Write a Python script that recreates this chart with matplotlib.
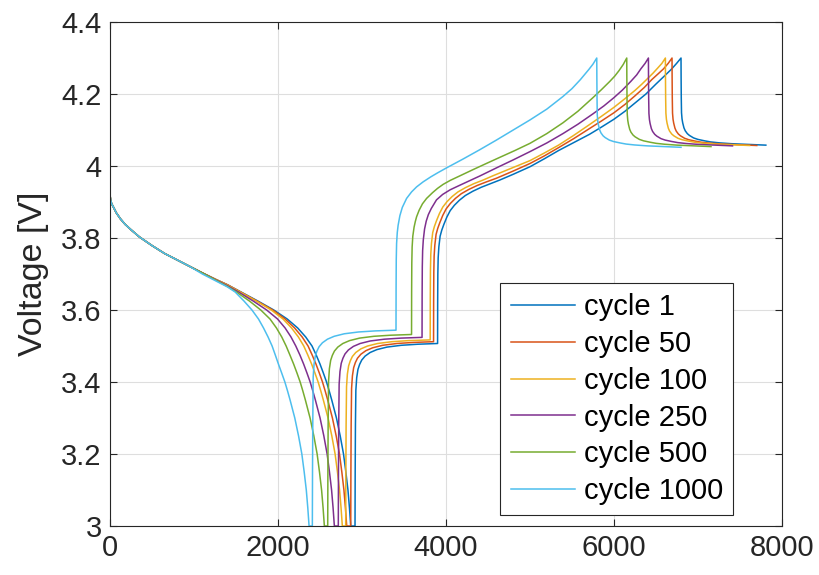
import matplotlib

matplotlib.use("Agg")
import matplotlib.pyplot as plt
from matplotlib.ticker import FormatStrFormatter

plt.rcParams["font.family"] = ["Liberation Sans", "DejaVu Sans"]

labels = ["cycle 1", "cycle 50", "cycle 100", "cycle 250", "cycle 500", "cycle 1000"]
colors = ["#0072BD", "#D95319", "#EDB120", "#7E2F8E", "#77AC30", "#4DBEEE"]

# start of the discharge, the same for every cycle
t_start = [0, 8, 20, 45, 75, 125, 180, 250, 350, 500, 650, 800, 950, 1100]
v_start = [3.92, 3.905, 3.895, 3.884, 3.870, 3.853, 3.838, 3.823, 3.803, 3.779, 3.757, 3.739, 3.721, 3.703]

# end of discharge: voltage levels shared by all cycles
v_tail = [3.65, 3.625, 3.60, 3.575, 3.55, 3.525, 3.50, 3.475, 3.45, 3.425, 3.40,
          3.375, 3.35, 3.325, 3.30, 3.25, 3.20, 3.15, 3.10, 3.05, 3.0]

# each cycle: discharge tail | rest | charge | rest
t_c1 = [1250, 1400, 1560, 1760, 1950, 2110, 2235, 2330, 2405, 2455, 2500, 2540, 2578, 2610, 2640, 2668, 2696, 2741, 2780, 2808, 2833, 2851, 2866,
        2917, 2919, 2922, 2927, 2937, 2952, 2972, 2997, 3037, 3097, 3177, 3297, 3467, 3667, 3900,
        3901, 3903, 3907, 3915, 3930, 3950, 3975, 4010, 4050, 4100, 4160, 4230, 4320, 4420, 4530, 4640, 4800, 5000, 5170, 5340, 5520, 5708, 5850, 6000, 6130, 6250, 6380, 6501, 6600, 6680, 6745, 6798,
        6799, 6801, 6804, 6810, 6818, 6833, 6848, 6873, 6898, 6948, 6998, 7078, 7148, 7248, 7398, 7598, 7808]
v_c1 = [3.686, 3.670] + v_tail + [
        3.0, 3.15, 3.28, 3.377, 3.412, 3.435, 3.449, 3.461, 3.472, 3.482, 3.49, 3.497, 3.502, 3.505, 3.507,
        3.62, 3.70, 3.745, 3.775, 3.805, 3.822, 3.838, 3.858, 3.876, 3.891, 3.905, 3.918, 3.93, 3.941, 3.951, 3.961, 3.977, 3.998, 4.02, 4.043, 4.065, 4.088, 4.108, 4.13, 4.152, 4.175, 4.20, 4.228, 4.25, 4.268, 4.285, 4.30,
        4.25, 4.19, 4.148, 4.131, 4.12, 4.106, 4.098, 4.09, 4.085, 4.078, 4.074, 4.07, 4.067, 4.0645, 4.062, 4.06, 4.058]

t_c50 = [1250, 1400, 1555, 1750, 1938, 2085, 2198, 2288, 2358, 2407, 2452, 2492, 2530, 2562, 2592, 2620, 2648, 2693, 2732, 2760, 2785, 2803, 2818,
         2866, 2868, 2871, 2876, 2886, 2901, 2921, 2946, 2986, 3046, 3126, 3246, 3416, 3616, 3852,
         3853, 3855, 3859, 3867, 3882, 3902, 3927, 3962, 4002, 4052, 4112, 4182, 4272, 4372, 4482, 4600, 4800, 5000, 5170, 5340, 5520, 5708, 5850, 6000, 6130, 6250, 6360, 6450, 6530, 6590, 6645, 6691,
         6692, 6694, 6697, 6703, 6711, 6726, 6741, 6766, 6791, 6841, 6891, 6971, 7041, 7141, 7291, 7491, 7700]
v_c50 = [3.686, 3.670] + v_tail + [
         3.0, 3.15, 3.28, 3.382, 3.417, 3.44, 3.454, 3.466, 3.477, 3.487, 3.495, 3.502, 3.507, 3.51, 3.512,
         3.625, 3.705, 3.75, 3.78, 3.81, 3.827, 3.843, 3.863, 3.881, 3.896, 3.91, 3.923, 3.935, 3.946, 3.956, 3.966, 3.986, 4.007, 4.028, 4.051, 4.076, 4.104, 4.125, 4.148, 4.171, 4.195, 4.218, 4.24, 4.257, 4.27, 4.285, 4.30,
         4.25, 4.19, 4.147, 4.13, 4.119, 4.105, 4.097, 4.089, 4.084, 4.077, 4.073, 4.069, 4.066, 4.0635, 4.061, 4.059, 4.057]

t_c100 = [1250, 1400, 1550, 1740, 1920, 2060, 2162, 2243, 2307, 2355, 2400, 2440, 2478, 2510, 2540, 2568, 2596, 2641, 2680, 2708, 2733, 2751, 2766,
          2806, 2808, 2811, 2816, 2826, 2841, 2861, 2886, 2926, 2986, 3066, 3186, 3356, 3556, 3812,
          3813, 3815, 3819, 3827, 3842, 3862, 3887, 3922, 3962, 4012, 4072, 4142, 4232, 4332, 4442, 4560, 4780, 5000, 5170, 5340, 5520, 5708, 5850, 6000, 6130, 6250, 6330, 6400, 6465, 6520, 6570, 6612,
          6613, 6615, 6618, 6624, 6632, 6647, 6662, 6687, 6712, 6762, 6812, 6892, 6962, 7062, 7212, 7412, 7615]
v_c100 = [3.686, 3.669] + v_tail + [
          3.0, 3.15, 3.28, 3.387, 3.422, 3.445, 3.459, 3.471, 3.482, 3.492, 3.50, 3.507, 3.512, 3.515, 3.517,
          3.63, 3.71, 3.755, 3.785, 3.815, 3.832, 3.848, 3.868, 3.886, 3.901, 3.915, 3.928, 3.94, 3.951, 3.961, 3.973, 3.994, 4.015, 4.036, 4.058, 4.085, 4.115, 4.138, 4.163, 4.187, 4.21, 4.227, 4.243, 4.258, 4.272, 4.285, 4.30,
          4.25, 4.19, 4.147, 4.13, 4.119, 4.105, 4.097, 4.089, 4.084, 4.077, 4.073, 4.069, 4.066, 4.0635, 4.061, 4.059, 4.057]

t_c250 = [1250, 1400, 1530, 1705, 1865, 1995, 2085, 2155, 2212, 2261, 2305, 2345, 2383, 2415, 2445, 2473, 2501, 2546, 2585, 2613, 2638, 2656, 2671,
          2718, 2720, 2723, 2728, 2738, 2753, 2773, 2798, 2838, 2898, 2978, 3098, 3268, 3468, 3715,
          3716, 3718, 3722, 3730, 3745, 3765, 3790, 3825, 3887, 3960, 4050, 4150, 4270, 4400, 4620, 4800, 5000, 5200, 5392, 5570, 5750, 5880, 6000, 6100, 6200, 6270, 6320, 6370, 6410,
          6411, 6413, 6416, 6422, 6430, 6445, 6460, 6485, 6510, 6560, 6610, 6690, 6760, 6860, 7010, 7210, 7411]
v_c250 = [3.685, 3.667] + v_tail + [
          3.0, 3.15, 3.28, 3.394, 3.429, 3.452, 3.466, 3.478, 3.489, 3.499, 3.507, 3.514, 3.519, 3.522, 3.524,
          3.64, 3.72, 3.765, 3.795, 3.825, 3.847, 3.865, 3.882, 3.906, 3.921, 3.934, 3.945, 3.958, 3.972, 3.997, 4.017, 4.04, 4.064, 4.09, 4.116, 4.145, 4.167, 4.19, 4.211, 4.235, 4.253, 4.27, 4.285, 4.30,
          4.25, 4.19, 4.146, 4.129, 4.118, 4.104, 4.096, 4.088, 4.083, 4.076, 4.072, 4.068, 4.065, 4.0625, 4.06, 4.058, 4.056]

t_c500 = [1250, 1400, 1505, 1660, 1795, 1905, 1982, 2045, 2097, 2142, 2186, 2226, 2264, 2296, 2326, 2354, 2382, 2427, 2466, 2494, 2519, 2537, 2552,
          2592, 2594, 2597, 2602, 2612, 2627, 2647, 2672, 2712, 2772, 2852, 2972, 3142, 3342, 3590,
          3591, 3593, 3597, 3605, 3620, 3635, 3650, 3680, 3720, 3769, 3840, 3900, 3966, 4050, 4150, 4322, 4480, 4640, 4820, 5000, 5200, 5392, 5570, 5750, 5850, 5950, 6010, 6060, 6110, 6152,
          6153, 6155, 6158, 6164, 6172, 6187, 6202, 6227, 6252, 6302, 6352, 6432, 6502, 6602, 6752, 6952, 7155]
v_c500 = [3.684, 3.665] + v_tail + [
          3.0, 3.15, 3.28, 3.402, 3.437, 3.46, 3.474, 3.486, 3.497, 3.507, 3.515, 3.522, 3.527, 3.53, 3.532,
          3.65, 3.73, 3.775, 3.805, 3.83, 3.846, 3.859, 3.877, 3.895, 3.91, 3.926, 3.938, 3.949, 3.96, 3.971, 3.99, 4.007, 4.024, 4.043, 4.063, 4.09, 4.12, 4.152, 4.19, 4.212, 4.235, 4.25, 4.265, 4.282, 4.30,
          4.25, 4.19, 4.144, 4.127, 4.116, 4.102, 4.094, 4.086, 4.081, 4.074, 4.07, 4.066, 4.063, 4.0605, 4.058, 4.056, 4.054]

t_c1000 = [1100, 1250, 1400, 1490, 1595, 1690, 1768, 1828, 1882, 1930, 1968, 2005, 2044, 2082, 2114, 2144, 2172, 2200, 2245, 2284, 2312, 2337, 2355, 2370,
           2409, 2411, 2414, 2419, 2429, 2444, 2464, 2489, 2529, 2589, 2669, 2789, 2959, 3159, 3405,
           3406, 3408, 3412, 3420, 3430, 3451, 3480, 3531, 3590, 3650, 3728, 3820, 3900, 4000, 4200, 4400, 4600, 4800, 5000, 5200, 5392, 5500, 5600, 5700, 5750, 5795,
           5796, 5798, 5801, 5807, 5815, 5830, 5845, 5870, 5895, 5945, 5995, 6075, 6145, 6245, 6395, 6595, 6798]
v_c1000 = [3.700, 3.682, 3.664] + v_tail + [
           3.0, 3.15, 3.28, 3.414, 3.449, 3.472, 3.486, 3.498, 3.509, 3.519, 3.527, 3.534, 3.539, 3.542, 3.544,
           3.66, 3.74, 3.785, 3.815, 3.835, 3.862, 3.885, 3.91, 3.928, 3.942, 3.956, 3.97, 3.981, 3.994, 4.019, 4.045, 4.072, 4.10, 4.128, 4.158, 4.193, 4.215, 4.24, 4.268, 4.283, 4.30,
           4.25, 4.19, 4.142, 4.125, 4.114, 4.10, 4.092, 4.084, 4.079, 4.072, 4.068, 4.064, 4.061, 4.0585, 4.056, 4.054, 4.052]

times = [t_c1, t_c50, t_c100, t_c250, t_c500, t_c1000]
volts = [v_c1, v_c50, v_c100, v_c250, v_c500, v_c1000]

fig = plt.figure(figsize=(8.19, 5.75), dpi=100)
ax = fig.add_axes([0.1343, 0.0852, 0.8205, 0.8765])

for t, v, c, lab in zip(times, volts, colors, labels):
    # cycle 1000 leaves the shared start one point earlier
    n = len([x for x in t_start if x < t[0]])
    ax.plot(t_start[:n] + t, v_start[:n] + v, color=c, lw=1.1, label=lab)

ax.set_xlim(0, 8000)
ax.set_ylim(3, 4.4)
ax.set_xticks([0, 2000, 4000, 6000, 8000])
ax.set_yticks([3, 3.2, 3.4, 3.6, 3.8, 4, 4.2, 4.4])
ax.yaxis.set_major_formatter(FormatStrFormatter("%g"))
ax.grid(True, color="#dedede", lw=0.8)
ax.set_axisbelow(True)
for s in ax.spines.values():
    s.set_color("#262626")
    s.set_linewidth(0.8)
ax.tick_params(direction="in", length=5, width=0.8, top=True, right=True,
               labelsize=21, colors="#262626", pad=6)
ax.set_ylabel("Voltage [V]", fontsize=24.5, color="#262626", labelpad=9)

leg = ax.legend(loc="upper left", bbox_to_anchor=(0.581, 0.482), fontsize=21,
                handlelength=2.2, labelspacing=0.3, borderaxespad=0, borderpad=0.35,
                handletextpad=0.3, fancybox=False, framealpha=1)
leg.get_frame().set_edgecolor("#262626")
leg.get_frame().set_linewidth(0.8)

fig.savefig("out.png", dpi=100)
